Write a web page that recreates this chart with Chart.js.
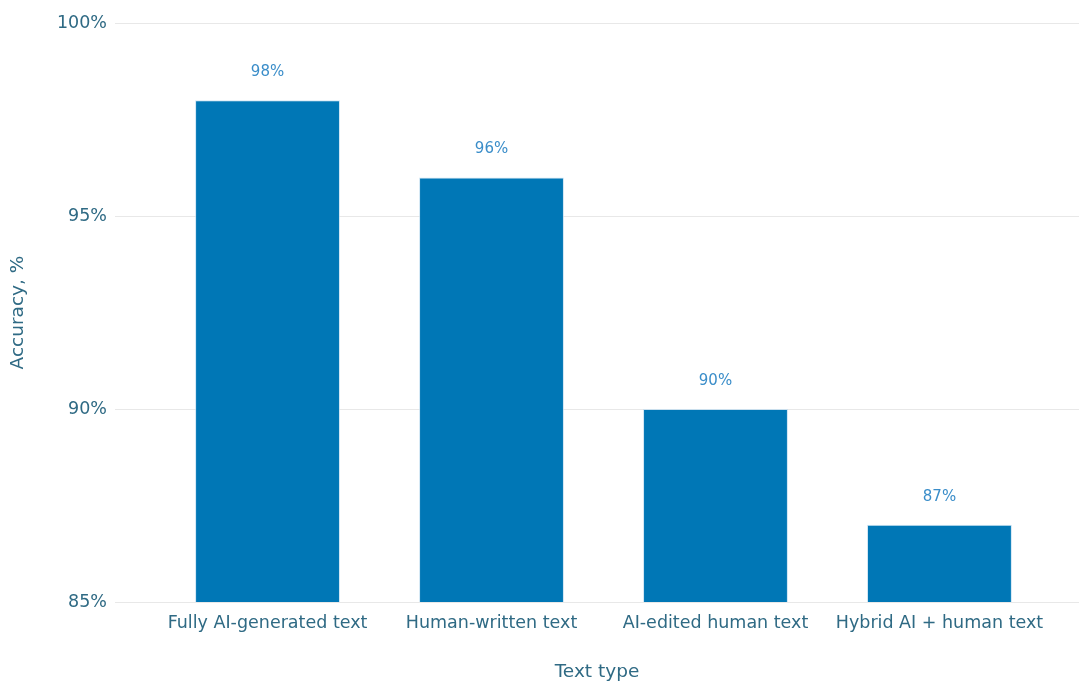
<!DOCTYPE html>
<html>
<head>
<meta charset="utf-8">
<script src="https://cdn.jsdelivr.net/npm/chart.js@4"></script>
<style>
  html, body { margin: 0; padding: 0; background: #fff; }
  #wrap { width: 1079px; height: 681px; }
</style>
</head>
<body>
<div id="wrap"><canvas id="chart"></canvas></div>
<script>
var categories = ['Fully AI-generated text', 'Human-written text', 'AI-edited human text', 'Hybrid AI + human text'];
var accuracy = [98, 96, 90, 87];
var yTicks = [85, 90, 95, 100];

var barBlue = '#0077b6';
var labelBlue = '#3a8dc9';
var axisText = '#2f6a84';
var gridColor = '#e8e8e8';
var fontFamily = '"DejaVu Sans", Verdana, sans-serif';

var valueLabels = {
  id: 'valueLabels',
  afterDatasetsDraw: function(chart) {
    var ctx = chart.ctx;
    var meta = chart.getDatasetMeta(0);
    ctx.save();
    ctx.font = '15px ' + fontFamily;
    ctx.fillStyle = labelBlue;
    ctx.textAlign = 'center';
    ctx.textBaseline = 'middle';
    meta.data.forEach(function(bar, i) {
      ctx.fillText(accuracy[i] + '%', bar.x, bar.y - 28);
    });
    ctx.restore();
  }
};

new Chart(document.getElementById('chart').getContext('2d'), {
  type: 'bar',
  data: {
    datasets: [{
      label: 'Accuracy',
      data: accuracy.map(function(v, i) { return { x: i, y: v }; }),
      backgroundColor: barBlue,
      borderColor: 'rgba(190,220,240,0.7)',
      borderWidth: 1,
      barPercentage: 0.647,
      categoryPercentage: 1
    }]
  },
  options: {
    responsive: true, maintainAspectRatio: false, animation: false,
    layout: { padding: { top: 23, right: 0, bottom: 0, left: 0 } },
    plugins: { legend: { display: false }, tooltip: { enabled: false } },
    scales: {
      x: {
        type: 'linear', min: -0.681, max: 3.623, offset: false,
        grid: { display: false, offset: false, drawTicks: false }, border: { display: false },
        afterBuildTicks: function(scale) {
          scale.ticks = categories.map(function(c, i) { return { value: i }; });
        },
        afterFit: function(scale) { scale.height = 79; },
        ticks: {
          autoSkip: false, maxRotation: 0, padding: 11,
          color: axisText, font: { family: fontFamily, size: 17.5 },
          callback: function(v) { return categories[v]; }
        },
        title: { display: true, text: 'Text type', color: axisText, font: { family: fontFamily, size: 18.5 }, padding: { top: 0, bottom: -2 } }
      },
      y: {
        min: 85, max: 100,
        afterBuildTicks: function(scale) {
          scale.ticks = yTicks.map(function(v) { return { value: v }; });
        },
        afterFit: function(scale) { scale.width = 115; },
        grid: { color: gridColor, lineWidth: 1, drawTicks: false }, border: { display: false },
        ticks: {
          padding: 8, color: axisText, font: { family: fontFamily, size: 17.5 },
          callback: function(v) { return v + '%'; }
        },
        title: { display: true, text: 'Accuracy, %', color: axisText, font: { family: fontFamily, size: 18.5 }, padding: { top: 7, bottom: 0 } }
      }
    }
  },
  plugins: [valueLabels]
});
</script>
</body>
</html>
